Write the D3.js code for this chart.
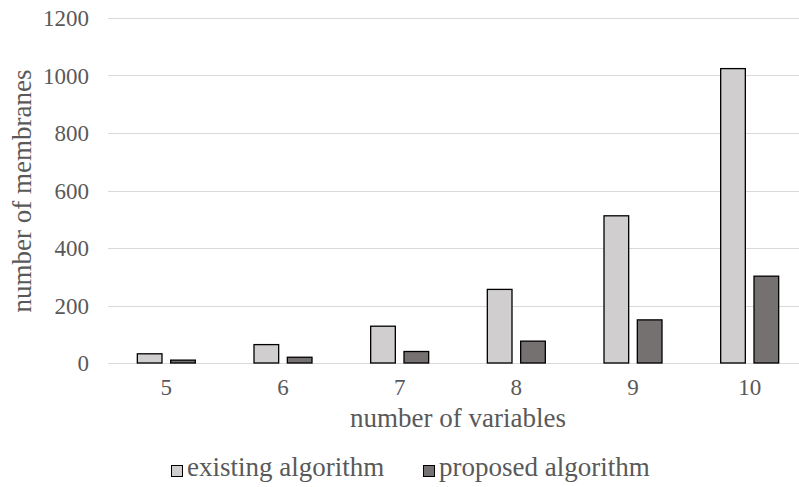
<!DOCTYPE html>
<html>
<head>
<meta charset="utf-8">
<script src="https://cdn.jsdelivr.net/npm/d3@7"></script>
<style>
  body { margin: 0; background: #fff; }
  text { font-family: "Liberation Serif", "Times New Roman", serif; fill: #595959; }
</style>
</head>
<body>
<div id="chart"></div>
<script>
const categories = ["5", "6", "7", "8", "9", "10"];
const existing = [32, 64, 128, 256, 512, 1024];
const proposed = [10, 20, 40, 76, 150, 302];
const seriesNames = ["existing algorithm", "proposed algorithm"];
const seriesColors = ["#D0CECE", "#767171"];
const yTicks = [0, 200, 400, 600, 800, 1000, 1200];

const width = 799, height = 487;
const margin = {top: 18, right: -9, bottom: 124, left: 108};

const svg = d3.select("#chart").append("svg")
    .attr("width", width)
    .attr("height", height);

let x = d3.scaleBand()
    .domain(categories)
    .range([margin.left, width - margin.right])
    .paddingInner(0)
    .paddingOuter(0);

let xInner = d3.scaleBand()
    .domain(seriesNames)
    .range([0, x.bandwidth()])
    .paddingInner(0.26)
    .paddingOuter(0.88);

let y = d3.scaleLinear()
    .domain([0, 1200])
    .range([height - margin.bottom, margin.top]);

// gridlines
svg.append("g")
    .selectAll("line")
    .data(yTicks)
    .enter()
    .append("line")
    .attr("x1", margin.left)
    .attr("x2", width)
    .attr("y1", d => Math.round(y(d)) + 0.5)
    .attr("y2", d => Math.round(y(d)) + 0.5)
    .attr("stroke", "#D9D9D9")
    .attr("stroke-width", 1);

// y tick labels
svg.append("g")
    .selectAll("text")
    .data(yTicks)
    .enter()
    .append("text")
    .attr("x", margin.left - 19)
    .attr("y", d => y(d))
    .attr("dy", "0.35em")
    .style("text-anchor", "end")
    .style("font-size", "23px")
    .text(d => d);

// bars
let rows = categories.map((c, i) => ({cat: c, values: [existing[i], proposed[i]]}));
let groups = svg.append("g")
    .selectAll("g")
    .data(rows)
    .enter()
    .append("g")
    .attr("transform", d => "translate(" + x(d.cat) + ",0)");

groups.selectAll("rect")
    .data(d => d.values.map((v, j) => ({name: seriesNames[j], value: v, j: j})))
    .enter()
    .append("rect")
    .attr("x", d => xInner(d.name))
    .attr("y", d => y(d.value))
    .attr("width", xInner.bandwidth())
    .attr("height", d => y(0) - y(d.value))
    .attr("fill", d => seriesColors[d.j])
    .attr("stroke", "#000")
    .attr("stroke-width", 1.3);

// x tick labels
svg.append("g")
    .selectAll("text")
    .data(categories)
    .enter()
    .append("text")
    .attr("x", d => x(d) + x.bandwidth() / 2)
    .attr("y", y(0) + 32)
    .style("text-anchor", "middle")
    .style("font-size", "23px")
    .text(d => d);

// axis titles
svg.append("text")
    .attr("x", 458)
    .attr("y", 427)
    .style("text-anchor", "middle")
    .style("font-size", "27px")
    .text("number of variables");

svg.append("text")
    .attr("transform", "translate(31,191) rotate(-90)")
    .style("text-anchor", "middle")
    .style("font-size", "27px")
    .text("number of membranes");

// legend
let legendX = [171, 423];
let legend = svg.append("g")
    .selectAll("g")
    .data(seriesNames)
    .enter()
    .append("g")
    .attr("transform", (d, i) => "translate(" + legendX[i] + ",465)");

legend.append("rect")
    .attr("x", 0.5)
    .attr("y", 0.5)
    .attr("width", 11)
    .attr("height", 11)
    .attr("fill", (d, i) => seriesColors[i])
    .attr("stroke", "#000")
    .attr("stroke-width", 1);

legend.append("text")
    .attr("x", 16)
    .attr("y", 11)
    .style("font-size", "27px")
    .text(d => d);
</script>
</body>
</html>
